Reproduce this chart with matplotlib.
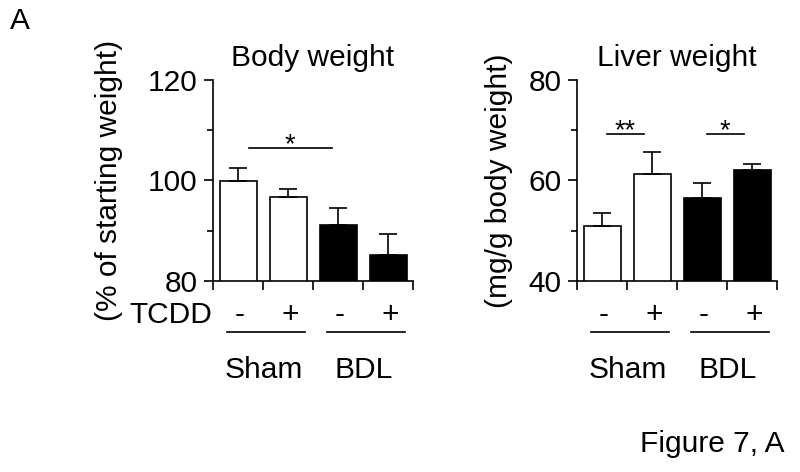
import matplotlib
matplotlib.use("Agg")
import matplotlib.pyplot as plt
import matplotlib.transforms as mtransforms
from matplotlib.ticker import MultipleLocator

plt.rcParams["font.family"] = ["Liberation Sans", "DejaVu Sans"]

# data
tcdd_labels = ["-", "+", "-", "+"]
groups = ["Sham", "BDL"]
bar_colors = ["white", "white", "black", "black"]

body_mean = [99.8, 96.8, 91.2, 85.2]
body_err = [2.7, 1.5, 3.3, 4.1]
body_sig = [(0, 2, 106.5, "*")]

liver_mean = [51.0, 61.3, 56.5, 62.0]
liver_err = [2.5, 4.4, 3.1, 1.3]
liver_sig = [(0, 1, 69.2, "**"), (2, 3, 69.2, "*")]

FS = 21.5
LW = 1.2


def draw_panel(fig, rect, means, errs, sig, ylim, yticks, minor, title, ylabel, label_x, show_tcdd):
    ax = fig.add_axes(rect)
    x = [i + 0.5 for i in range(len(means))]
    ax.bar(x, means, width=0.74, color=bar_colors, edgecolor="black", linewidth=LW)
    ax.errorbar(x, means, yerr=[[0] * len(errs), errs], fmt="none", ecolor="black",
                elinewidth=LW, capsize=6.5, capthick=LW)
    ax.set_xlim(0, 4)
    ax.set_ylim(*ylim)
    ax.set_xticks(range(5))
    ax.set_xticklabels([])
    ax.set_yticks(yticks)
    ax.yaxis.set_minor_locator(MultipleLocator(minor))
    ax.tick_params(axis="both", which="major", length=6.5, width=LW, labelsize=FS, pad=4.5)
    ax.tick_params(axis="y", which="minor", length=4.3, width=LW)
    for s in ["top", "right"]:
        ax.spines[s].set_visible(False)
    for s in ["left", "bottom"]:
        ax.spines[s].set_linewidth(LW)

    ax.text(0.5, 1.07, title, transform=ax.transAxes, ha="center", va="baseline", fontsize=FS)
    ax.set_ylabel(ylabel, fontsize=FS)
    ax.yaxis.set_label_coords(label_x, 0.5)

    for i, j, y, star in sig:
        if j - i > 1:
            x0, x1 = x[i] + 0.21, x[j] - 0.13
        else:
            x0, x1 = x[i] + 0.09, x[j] - 0.16
        ax.plot([x0, x1], [y, y], color="black", lw=LW, clip_on=False)
        ax.annotate(star, xy=((x0 + x1) / 2, y), xytext=(0, -3), textcoords="offset points",
                    ha="center", va="baseline", fontsize=FS * 0.9)

    trans = mtransforms.blended_transform_factory(ax.transData, ax.transAxes)
    for xi, lab in zip(x, tcdd_labels):
        ax.text(xi + 0.04, -0.169, lab, transform=trans, ha="center", va="center", fontsize=FS)
    for g, name in enumerate(groups):
        left, right = x[2 * g], x[2 * g + 1]
        ax.plot([left - 0.23, right + 0.33], [-0.254, -0.254], transform=trans,
                color="black", lw=LW, clip_on=False)
        ax.text((left + right) / 2 + 0.02, -0.443, name, transform=trans,
                ha="center", va="center", fontsize=FS)
    if show_tcdd:
        ax.text(-0.005, -0.169, "TCDD", transform=ax.transAxes, ha="right", va="center", fontsize=FS)
    return ax


fig = plt.figure(figsize=(8, 4.72), dpi=100)
draw_panel(fig, [0.26625, 0.4047, 0.25, 0.4258], body_mean, body_err, body_sig,
           (80, 120), [80, 100, 120], 10, "Body weight", "(% of starting weight)", -0.45, True)
draw_panel(fig, [0.72125, 0.4047, 0.25, 0.4258], liver_mean, liver_err, liver_sig,
           (40, 80), [40, 60, 80], 10, "Liver weight", "(mg/g body weight)", -0.32, False)

fig.text(0.012, 0.955, "A", ha="left", va="center", fontsize=FS)
fig.text(0.981, 0.042, "Figure 7, A", ha="right", va="baseline", fontsize=FS)

fig.savefig("out.png", dpi=100)
